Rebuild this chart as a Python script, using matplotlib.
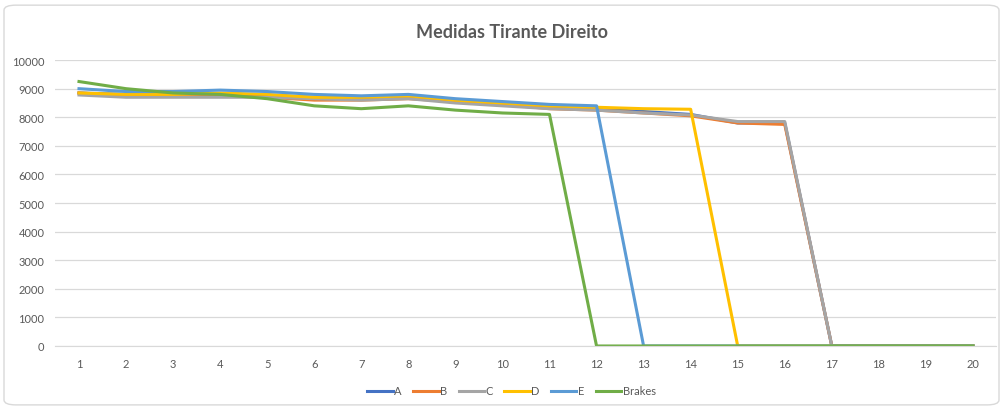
import numpy as np
import matplotlib.pyplot as plt
from matplotlib.patches import FancyBboxPatch

# category axis 1..20
points = list(range(1, 21))

a = [8850, 8800, 8800, 8800, 8750, 8700, 8650, 8700, 8600, 8500,
     8350, 8300, 8200, 8100, 7800, 7800, 0, 0, 0, 0]
b = [8850, 8750, 8750, 8750, 8700, 8600, 8600, 8650, 8550, 8450,
     8300, 8250, 8150, 8050, 7800, 7750, 0, 0, 0, 0]
c = [8780, 8700, 8700, 8700, 8700, 8650, 8600, 8650, 8500, 8400,
     8300, 8250, 8150, 8080, 7850, 7850, 0, 0, 0, 0]
d = [8850, 8800, 8800, 8850, 8800, 8700, 8700, 8750, 8600, 8500,
     8400, 8350, 8300, 8280, 0, 0, 0, 0, 0, 0]
e = [9000, 8900, 8900, 8950, 8900, 8800, 8750, 8800, 8650, 8550,
     8450, 8400, 0, 0, 0, 0, 0, 0, 0, 0]
brakes = [9250, 9000, 8850, 8800, 8650, 8400, 8300, 8400, 8250, 8150,
          8100, 0, 0, 0, 0, 0, 0, 0, 0, 0]

series = [('A', a, '#4472C4'), ('B', b, '#ED7D31'), ('C', c, '#A5A5A5'),
          ('D', d, '#FFC000'), ('E', e, '#5B9BD5'), ('Brakes', brakes, '#70AD47')]

plt.rcParams['font.family'] = ['Lato', 'DejaVu Sans']
txt = '#595959'

fig = plt.figure(figsize=(10.03, 4.10), dpi=100)
border = FancyBboxPatch((0.004, 0.01), 0.992, 0.975,
                        boxstyle='round,pad=0,rounding_size=0.012',
                        transform=fig.transFigure, fc='none',
                        ec='#d9d9d9', lw=1, zorder=-10)
fig.patches.append(border)
ax = fig.add_axes([0.0553, 0.1537, 0.9382, 0.6973])
ax.patch.set_alpha(0)

for name, vals, col in series:
    ax.plot(points, vals, color=col, lw=2.2, label=name, solid_joinstyle='round')

ax.set_xlim(0.5, 20.5)
ax.set_ylim(0, 10000)
ax.set_xticks(points)
ax.set_yticks(np.arange(0, 10001, 1000))
ax.grid(axis='y', color='#d9d9d9', lw=0.9)
ax.set_axisbelow(True)
for s in ['top', 'right', 'left']:
    ax.spines[s].set_visible(False)
ax.spines['bottom'].set_color('#d9d9d9')
ax.tick_params(length=0, labelsize=8, labelcolor=txt, pad=9)
ax.tick_params(axis='y', pad=8)

fig.text(0.51, 0.92, 'Medidas Tirante Direito', ha='center', va='center',
         fontsize=13, fontweight='bold', color=txt)

leg = fig.legend(loc='center', bbox_to_anchor=(0.51, 0.044), ncol=6, frameon=False,
                 fontsize=8, handlelength=2.3, handletextpad=0.15, columnspacing=1.0)
for t in leg.get_texts():
    t.set_color(txt)

fig.savefig('out.png', dpi=100)
